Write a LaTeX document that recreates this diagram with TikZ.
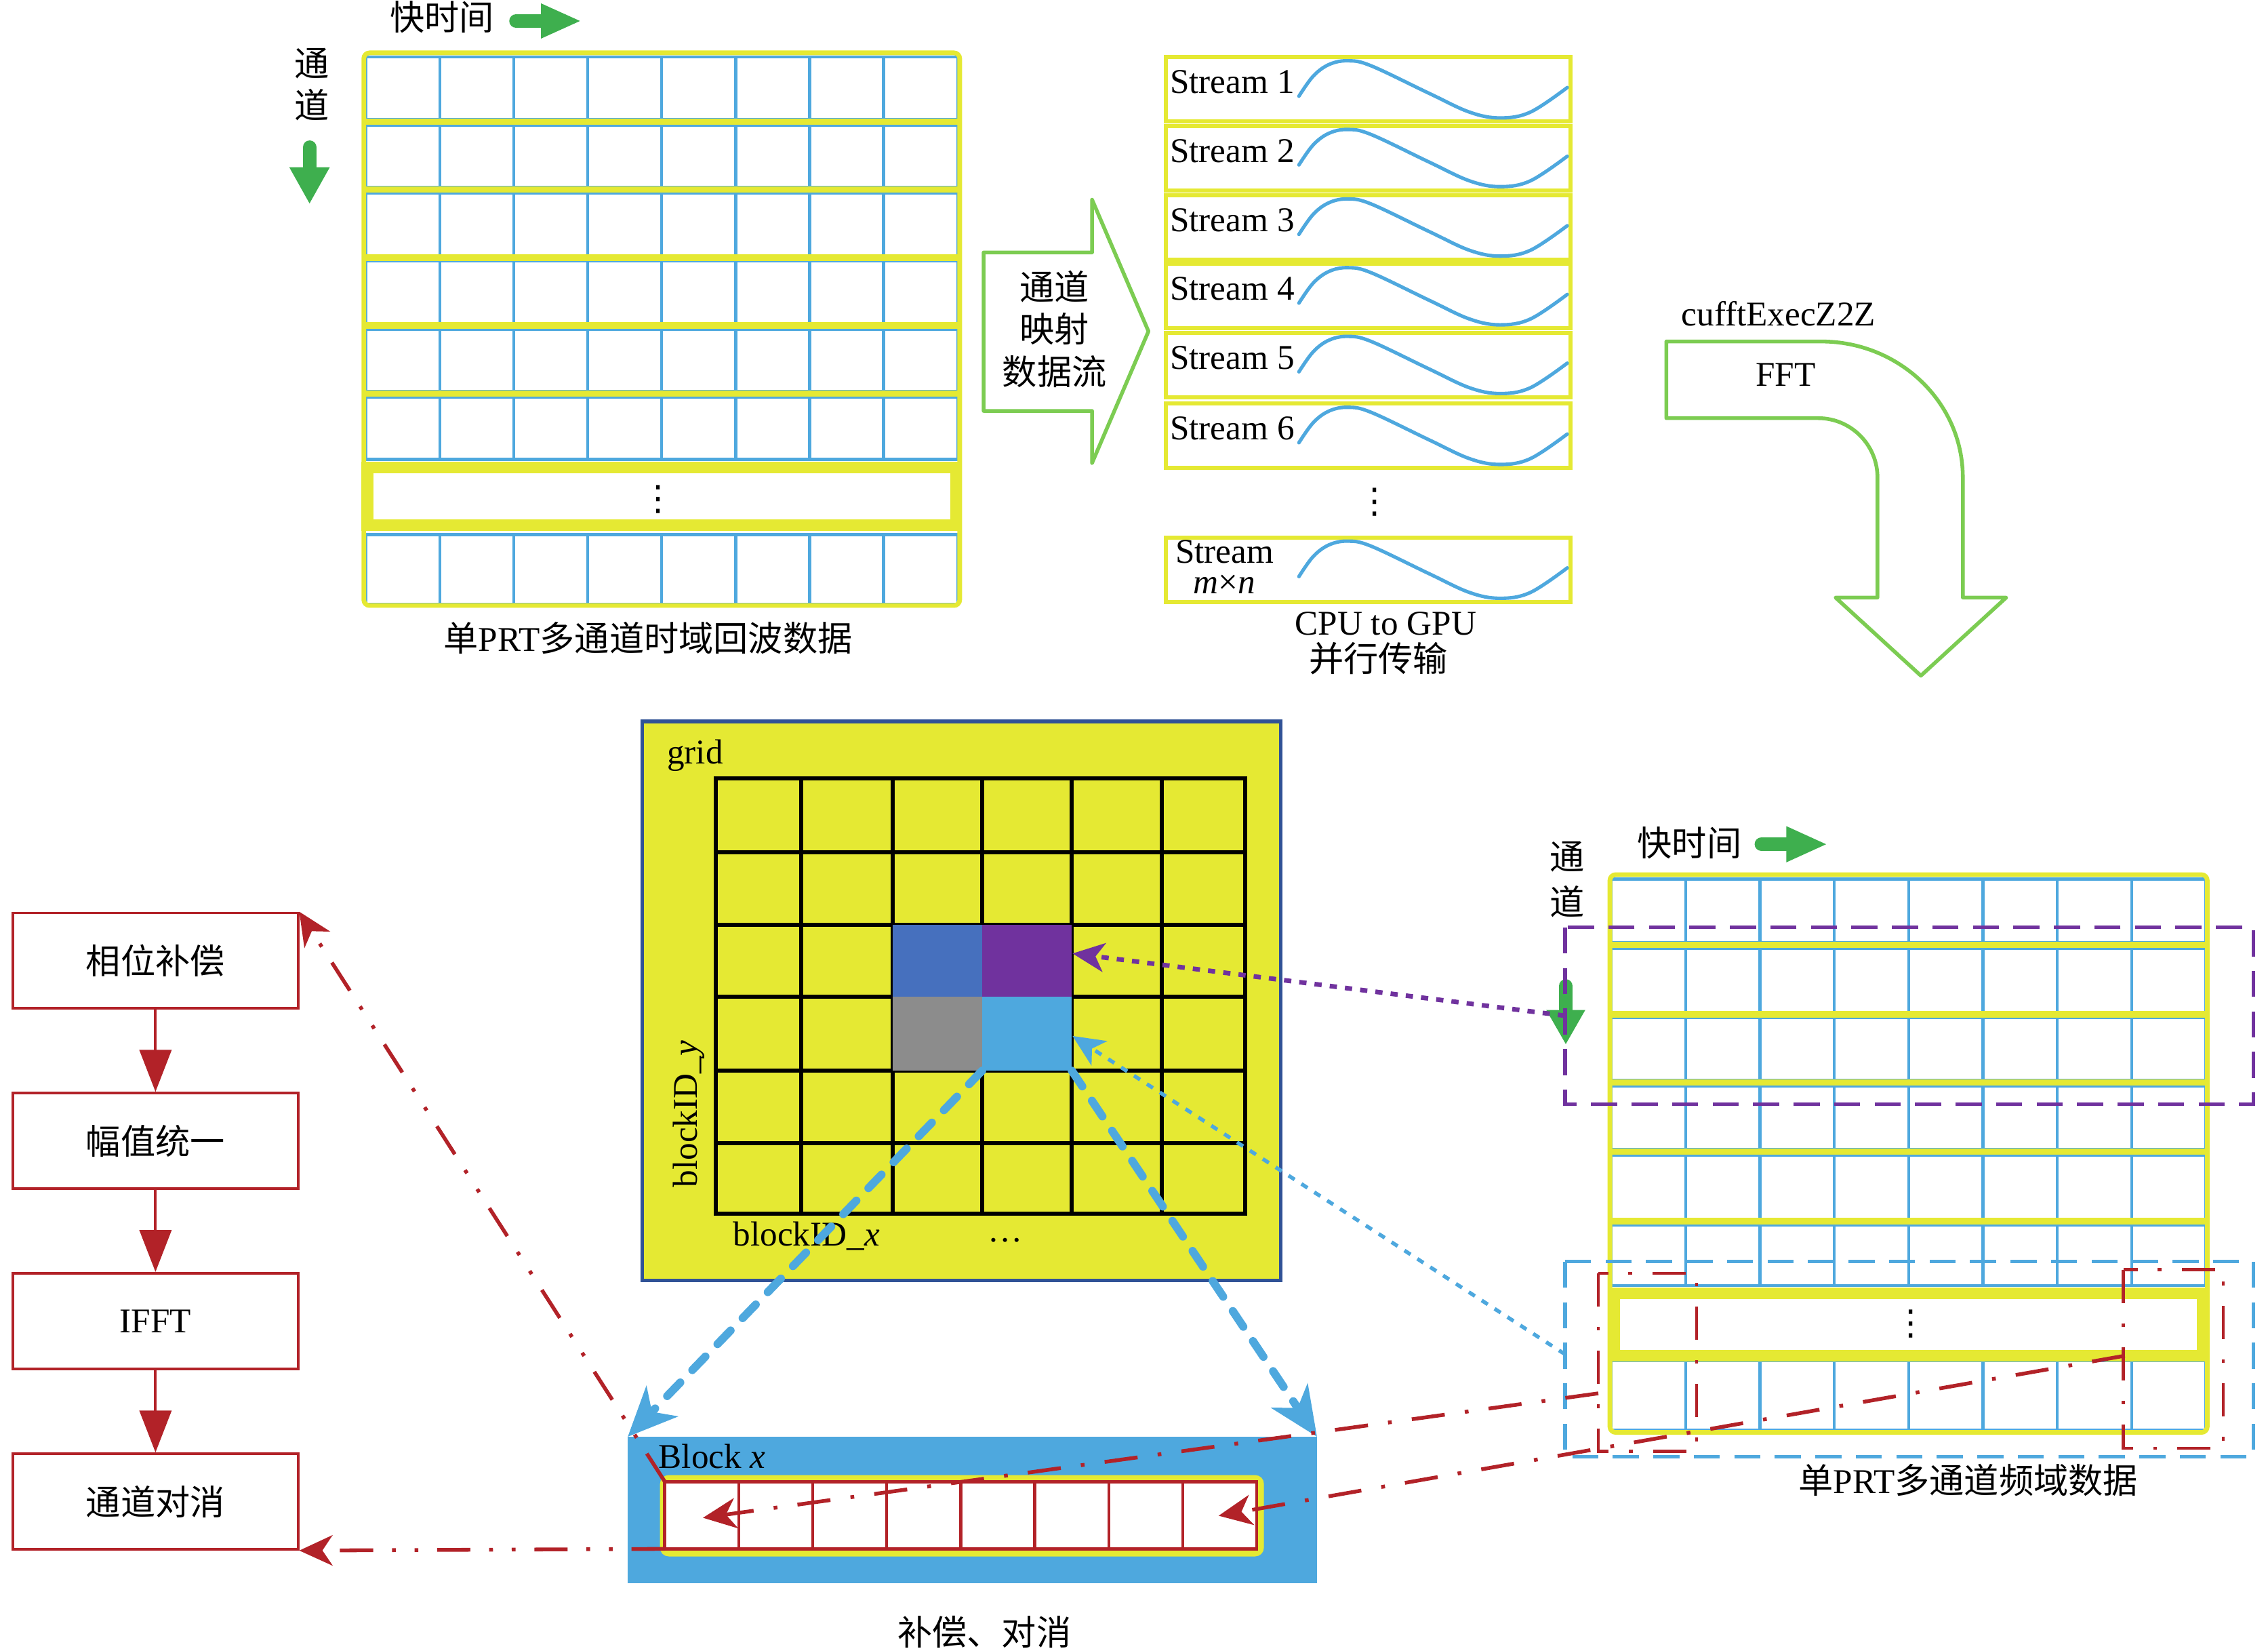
\documentclass[tikz,border=0pt]{standalone}
\usepackage{fontspec}
\setmainfont{Liberation Serif}
\newfontfamily\cjk{Noto Sans CJK SC}
\newfontfamily\dejavu{DejaVu Sans}
\usetikzlibrary{arrows.meta}
\definecolor{yel}{RGB}{229,233,51}
\definecolor{cblue}{RGB}{78,168,222}
\definecolor{dgreen}{RGB}{62,175,78}
\definecolor{lgreen}{RGB}{124,204,82}
\definecolor{rd}{RGB}{178,34,40}
\definecolor{pur}{RGB}{112,50,158}
\definecolor{dblue}{RGB}{48,82,150}
\definecolor{mblue}{RGB}{70,112,190}
\definecolor{gry}{RGB}{140,140,140}
\tikzset{
  txt/.style={inner sep=0pt, font=\fontsize{12}{14}\selectfont},
  cn/.style={inner sep=0pt, font=\cjk\fontsize{12}{14}\selectfont},
  vd/.style={inner sep=0pt, font=\dejavu\fontsize{12}{14}\selectfont},
  cellline/.style={draw=cblue, line width=1pt},
  yframe/.style={draw=yel, line width=1.6pt, rounded corners=2pt},
  ybar/.style={draw=yel, line width=2.2pt},
  ydots/.style={draw=yel, line width=4pt, fill=white},
  sbox/.style={draw=yel, line width=1.4pt},
  sinewave/.pic={\draw[cblue, line width=1.2pt, line cap=round] plot[smooth,tension=0.6] coordinates {(0,27) (10,13) (21,5) (34,2.5) (50,6) (90,25) (118,38) (139,42) (160,38) (185.5,21)};},
  gshaft/.style={draw=dgreen, line width=4.75pt, line cap=round},
  bigarrow/.style={draw=lgreen, line width=1.3pt, line join=round},
  fbox/.style={draw=rd, line width=0.9pt, minimum width=98.5pt, minimum height=33pt, inner sep=0pt, font=\cjk\fontsize{12}{14}\selectfont},
  farrow/.style={draw=rd, line width=0.9pt, -{Triangle[length=14.5pt,width=11pt]}},
  rdd/.style={draw=rd, line width=1.3pt, dash pattern=on 11.5pt off 7pt on 1.3pt off 7pt},
  rddd/.style={draw=rd, line width=1.3pt, dash pattern=on 11.5pt off 6.5pt on 1.3pt off 6.5pt on 1.3pt off 6.5pt},
  rhead/.style={-{Stealth[length=11.5pt,width=10.5pt,inset=3.5pt]}},
  dothead/.style={-{Stealth[length=11pt,width=10pt,inset=3pt]}},
  bighead/.style={-{Stealth[length=17pt,width=15pt,inset=5pt]}},
  gridline/.style={line width=1.4pt, line cap=rect},
}
\begin{document}
\begin{tikzpicture}[x=0.5pt,y=-0.5pt]
\useasboundingbox (0,0) rectangle (1568,1141);

% ===== top-left time-domain grid
\foreach \ya/\yb in {37/84,84/131,131/178,178/225,225/272,272/319,367/419}{
  \draw[cellline] (253,{\ya+2.5}) rectangle (662,{\yb-1.5});
  \foreach \k in {1,...,7}
    \draw[cellline] ({253+\k*51.125},{\ya+2.5}) -- ({253+\k*51.125},{\yb-1.5});
}
\foreach \y in {84,131,178,225,272}
  \draw[ybar] (251,\y) -- (664,\y);
\draw[yframe] (251.5,36.5) rectangle (663.5,418.5);
\draw[ydots] (254,323) rectangle (661,363);
\node[vd] (tdots) at (455,345) {⋮};

\node[cn] (tfast) at (305.5,12) {快时间};
\draw[gshaft] (356.8,14.5) -- (377,14.5);
\fill[dgreen] (374,2.3) -- (401,14.5) -- (374,26.7) -- cycle;
\node[cn, align=center, font=\cjk\fontsize{12}{14.5}\selectfont] (tch) at (215.5,58.5) {通\\道};
\draw[gshaft] (214,101.8) -- (214,117);
\fill[dgreen] (200,115.6) -- (228,115.6) -- (214,140.6) -- cycle;
\node[txt] (tcap) at (448,441) {{\cjk 单}PRT{\cjk 多通道时域回波数据}};

% ===== streams
\foreach \ty/\nn [count=\i] in {39.5/1,87/2,135/3,182.5/4,230/5,279/6}{
  \draw[sbox] (806,\ty) rectangle (1086,{\ty+44.5});
  \node[txt, anchor=base west] (st\i) at (808.5,{\ty+25}) {Stream \nn};
  \pic at (898,\ty) {sinewave};
}
\draw[sbox] (806,371.5) rectangle (1086,416);
\node[txt, anchor=base] (stmn) at (846.6,389.3) {Stream};
\node[txt, anchor=base] (stmn2) at (846.6,410.4) {\textit{m}×\textit{n}};
\pic at (898,371.5) {sinewave};
\node[vd] (sdots) at (950.5,347) {⋮};
\node[txt] (cpu) at (958,431) {CPU to GPU};
\node[cn] (par) at (953,455) {并行传输};

% ===== mapping arrow
\draw[bigarrow] (680,174.5) -- (755,174.5) -- (755,138) -- (794,229) -- (755,320) -- (755,284) -- (680,284) -- cycle;
\node[cn, align=center, font=\cjk\fontsize{12}{14.75}\selectfont] (map) at (729,227.5) {通道\\映射\\数据流};

% ===== FFT arrow
\draw[bigarrow] (1152,236) -- (1259,236) .. controls (1313,236) and (1357,278) .. (1357,330) -- (1357,413) -- (1387,413) -- (1328,467) -- (1269,413) -- (1298,413) -- (1298,330) .. controls (1298,307.4) and (1279.6,289) .. (1257,289) -- (1152,289) -- cycle;
\node[txt, anchor=base] (cufft) at (1229.6,225.3) {cufftExecZ2Z};
\node[txt, anchor=base] (fft) at (1234.5,267) {FFT};

% ===== grid panel
\draw[fill=yel, draw=dblue, line width=1.3pt] (444,498.5) rectangle (885.5,885);
\node[txt] (gridl) at (480.5,522) {grid};
\foreach \x in {495,554,617,679,741,803,861}
  \draw[gridline] (\x,538) -- (\x,839);
\foreach \y in {538,589,639,689,740,790,839}
  \draw[gridline] (495,\y) -- (861,\y);
\fill[mblue] (617,639) rectangle (679,689);
\fill[pur] (679,639) rectangle (741,689);
\fill[gry] (617,689) rectangle (679,740);
\fill[cblue] (679,689) rectangle (741,740);
\node[txt, rotate=90] (bidy) at (476,770) {blockID\_\textit{y}};
\node[txt, anchor=base] (bidx) at (557.5,861) {blockID\_\textit{x}};
\node[txt] (gdots) at (694.8,857) {\dots};

% ===== Block x
\fill[cblue] (434,993) rectangle (910.5,1094);
\fill[yel, rounded corners=3pt] (456.3,1019.5) rectangle (873.8,1075.7);
\draw[rd, line width=1.1pt, fill=white] (459.6,1024) rectangle (868.8,1070.5);
\foreach \k in {1,...,7}
  \draw[rd, line width=1pt] ({459.6+\k*51.15},1024) -- ({459.6+\k*51.15},1070.5);
\node[txt, anchor=base west] (blk) at (455,1015) {Block \textit{x}};
\node[cn] (bcap) at (680.6,1128) {补偿、对消};

% ===== flow chart
\node[fbox] (f1) at (107.5,664) {相位补偿};
\node[fbox] (f2) at (107.5,788.5) {幅值统一};
\node[fbox] (f3) at (107.5,913) {\rmfamily IFFT};
\node[fbox] (f4) at (107.5,1037.75) {通道对消};
\draw[farrow] (f1) -- (f2);
\draw[farrow] (f2) -- (f3);
\draw[farrow] (f3) -- (f4);

% ===== right frequency-domain grid
\foreach \ya/\yb in {605/653,653/701,701/748,748/796,796/844,844/890,938/990}{
  \draw[cellline] (1114,{\ya+2.5}) rectangle (1525,{\yb-1.5});
  \foreach \k in {1,...,7}
    \draw[cellline] ({1114+\k*51.375},{\ya+2.5}) -- ({1114+\k*51.375},{\yb-1.5});
}
\foreach \y in {653,701,748,796,844}
  \draw[ybar] (1112,\y) -- (1527,\y);
\draw[yframe] (1113,604.5) rectangle (1526,990);
\draw[ydots] (1116,894) rectangle (1523,937);
\node[vd] (rdots) at (1321,915) {⋮};

\node[cn] (rfast) at (1168,582.5) {快时间};
\draw[gshaft] (1217.8,583.5) -- (1237,583.5);
\fill[dgreen] (1235,571) -- (1262.5,583.5) -- (1235,596) -- cycle;
\node[cn, align=center, font=\cjk\fontsize{12}{15.75}\selectfont] (rch) at (1083.5,608) {通\\道};
\draw[gshaft] (1082.5,681.5) -- (1082.5,700);
\fill[dgreen] (1069,698) -- (1096,698) -- (1082.5,721.6) -- cycle;
\node[txt] (rcap) at (1360.7,1023) {{\cjk 单}PRT{\cjk 多通道频域数据}};

% ===== dashed selections
\draw[pur, line width=1.2pt, dash pattern=on 9pt off 5pt] (1082,641) rectangle (1558,763);
\draw[cblue, line width=1.2pt, dash pattern=on 9pt off 5pt] (1082,872) rectangle (1558,1007);
\draw[rdd, line width=1.1pt] (1105,880) rectangle (1173,1003);
\draw[rdd, line width=1.1pt] (1468,877.5) rectangle (1537,1001);

% ===== connectors
\coordinate (pst) at (1082,702);
\coordinate (ptip) at (741.5,659);
\coordinate (bst) at (1082,936);
\coordinate (btip) at (741.5,716);
\draw[pur, line width=1.6pt, dash pattern=on 2.5pt off 2.8pt, dothead] (pst) -- (ptip);
\draw[cblue, line width=1.3pt, dash pattern=on 2.5pt off 2.8pt, dothead] (bst) -- (btip);
\coordinate (c1) at (679,740);
\coordinate (c2) at (741,740);
\coordinate (bxl) at (434,993);
\coordinate (bxr) at (910.5,993);
\draw[cblue, line width=2.8pt, line cap=round, dash pattern=on 6.5pt off 6pt, bighead] (c1) -- (bxl);
\draw[cblue, line width=2.8pt, line cap=round, dash pattern=on 6.5pt off 6pt, bighead] (c2) -- (bxr);

\coordinate (la) at (1105,963);
\coordinate (lb) at (1469,937);
\coordinate (ta) at (486,1049);
\coordinate (tb) at (842.5,1047.6);
\draw[rdd, rhead] (la) -- (ta);
\draw[rdd, rhead] (lb) -- (tb);
\coordinate (ctl) at (459.6,1024);
\coordinate (cbl) at (459.6,1070.5);
\draw[rddd, rhead] (ctl) -- (f1.north east);
\draw[rddd, rhead] (cbl) -- (f4.south east);
\end{tikzpicture}
\end{document}
